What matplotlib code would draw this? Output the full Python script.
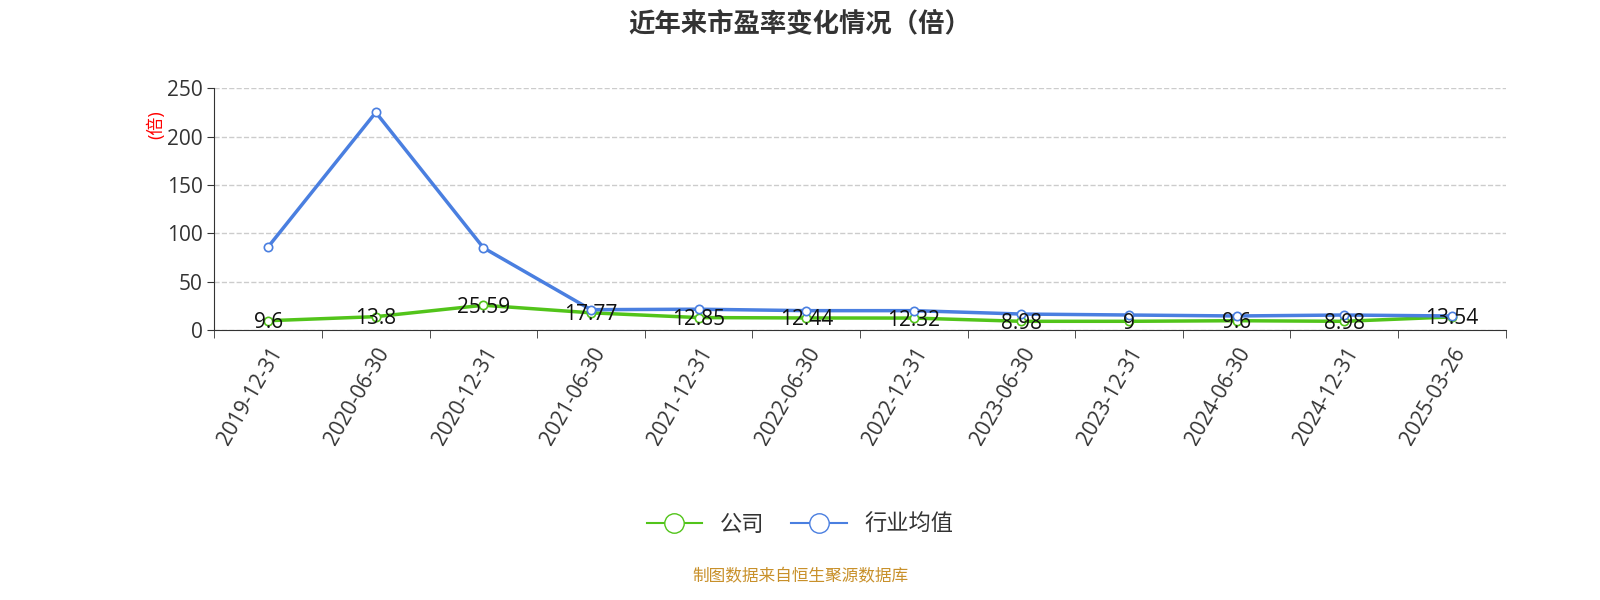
import matplotlib
matplotlib.use("Agg")
import matplotlib.pyplot as plt
import numpy as np

plt.rcParams['font.family'] = ['Open Sans', 'Noto Sans CJK SC', 'DejaVu Sans']

dates = ["2019-12-31","2020-06-30","2020-12-31","2021-06-30","2021-12-31","2022-06-30",
         "2022-12-31","2023-06-30","2023-12-31","2024-06-30","2024-12-31","2025-03-26"]
company = [9.6, 13.8, 25.59, 17.77, 12.85, 12.44, 12.32, 8.98, 9, 9.6, 8.98, 13.54]
company_labels = ["9.6","13.8","25.59","17.77","12.85","12.44","12.32","8.98","9","9.6","8.98","13.54"]
industry = [86, 225, 85, 21, 21.5, 20, 20, 16.5, 15.5, 14.5, 15.5, 14.5]

fig = plt.figure(figsize=(16, 6), dpi=100)
ax = fig.add_axes([0.134, 0.45, 0.807, 0.403])
x = np.arange(len(dates))
ax.plot(x, company, color='#52c41a', lw=2.5, marker='o', ms=6, mfc='white', mec='#52c41a', mew=1.2, zorder=3)
ax.plot(x, industry, color='#4a7fe0', lw=2.5, marker='o', ms=6, mfc='white', mec='#4a7fe0', mew=1.2, zorder=3)
for xi, v, lab in zip(x, company, company_labels):
    ax.text(xi, v - 2, lab, ha='center', va='center', fontsize=15, color='#111111', zorder=4)

ax.set_xlim(-0.5, len(dates) - 0.5)
ax.set_ylim(0, 250)
ax.set_yticks([0, 50, 100, 150, 200, 250])
ax.tick_params(axis='y', labelsize=15, colors='#333333', length=5)
ax.set_xticks(x)
ax.set_xticklabels(dates, rotation=60, ha='right', rotation_mode='anchor', fontsize=15, color='#333333')
ax.tick_params(axis='x', which='major', length=0, pad=10)
ax.set_xticks(np.arange(-0.5, len(dates), 1), minor=True)
ax.tick_params(axis='x', which='minor', length=6, color='#333333')
ax.grid(axis='y', ls='--', color='#cccccc', lw=1)
for s in ['top', 'right']:
    ax.spines[s].set_visible(False)
ax.spines['left'].set_color('#333333')
ax.spines['bottom'].set_color('#333333')
ax.text(-0.045, 0.85, '(倍)', transform=ax.transAxes, rotation=90, color='red', fontsize=13, ha='center', va='center')

fig.text(0.5, 0.96, '近年来市盈率变化情况（倍）', ha='center', va='center', fontsize=19, fontweight='bold', color='#333333')

from matplotlib.lines import Line2D
h = [Line2D([], [], color='#52c41a', lw=1.5, marker='o', ms=14, mfc='white', mec='#52c41a'),
     Line2D([], [], color='#4a7fe0', lw=1.5, marker='o', ms=14, mfc='white', mec='#4a7fe0')]
fig.legend(h, ['公司', '行业均值'], loc='center', bbox_to_anchor=(0.5, 0.125), ncol=2, frameon=False,
           fontsize=16, handlelength=2.5, columnspacing=1.2, labelcolor='#333333')
fig.text(0.5, 0.038, '制图数据来自恒生聚源数据库', ha='center', va='center', fontsize=12, color='#c8902a')
fig.savefig('out.png')
